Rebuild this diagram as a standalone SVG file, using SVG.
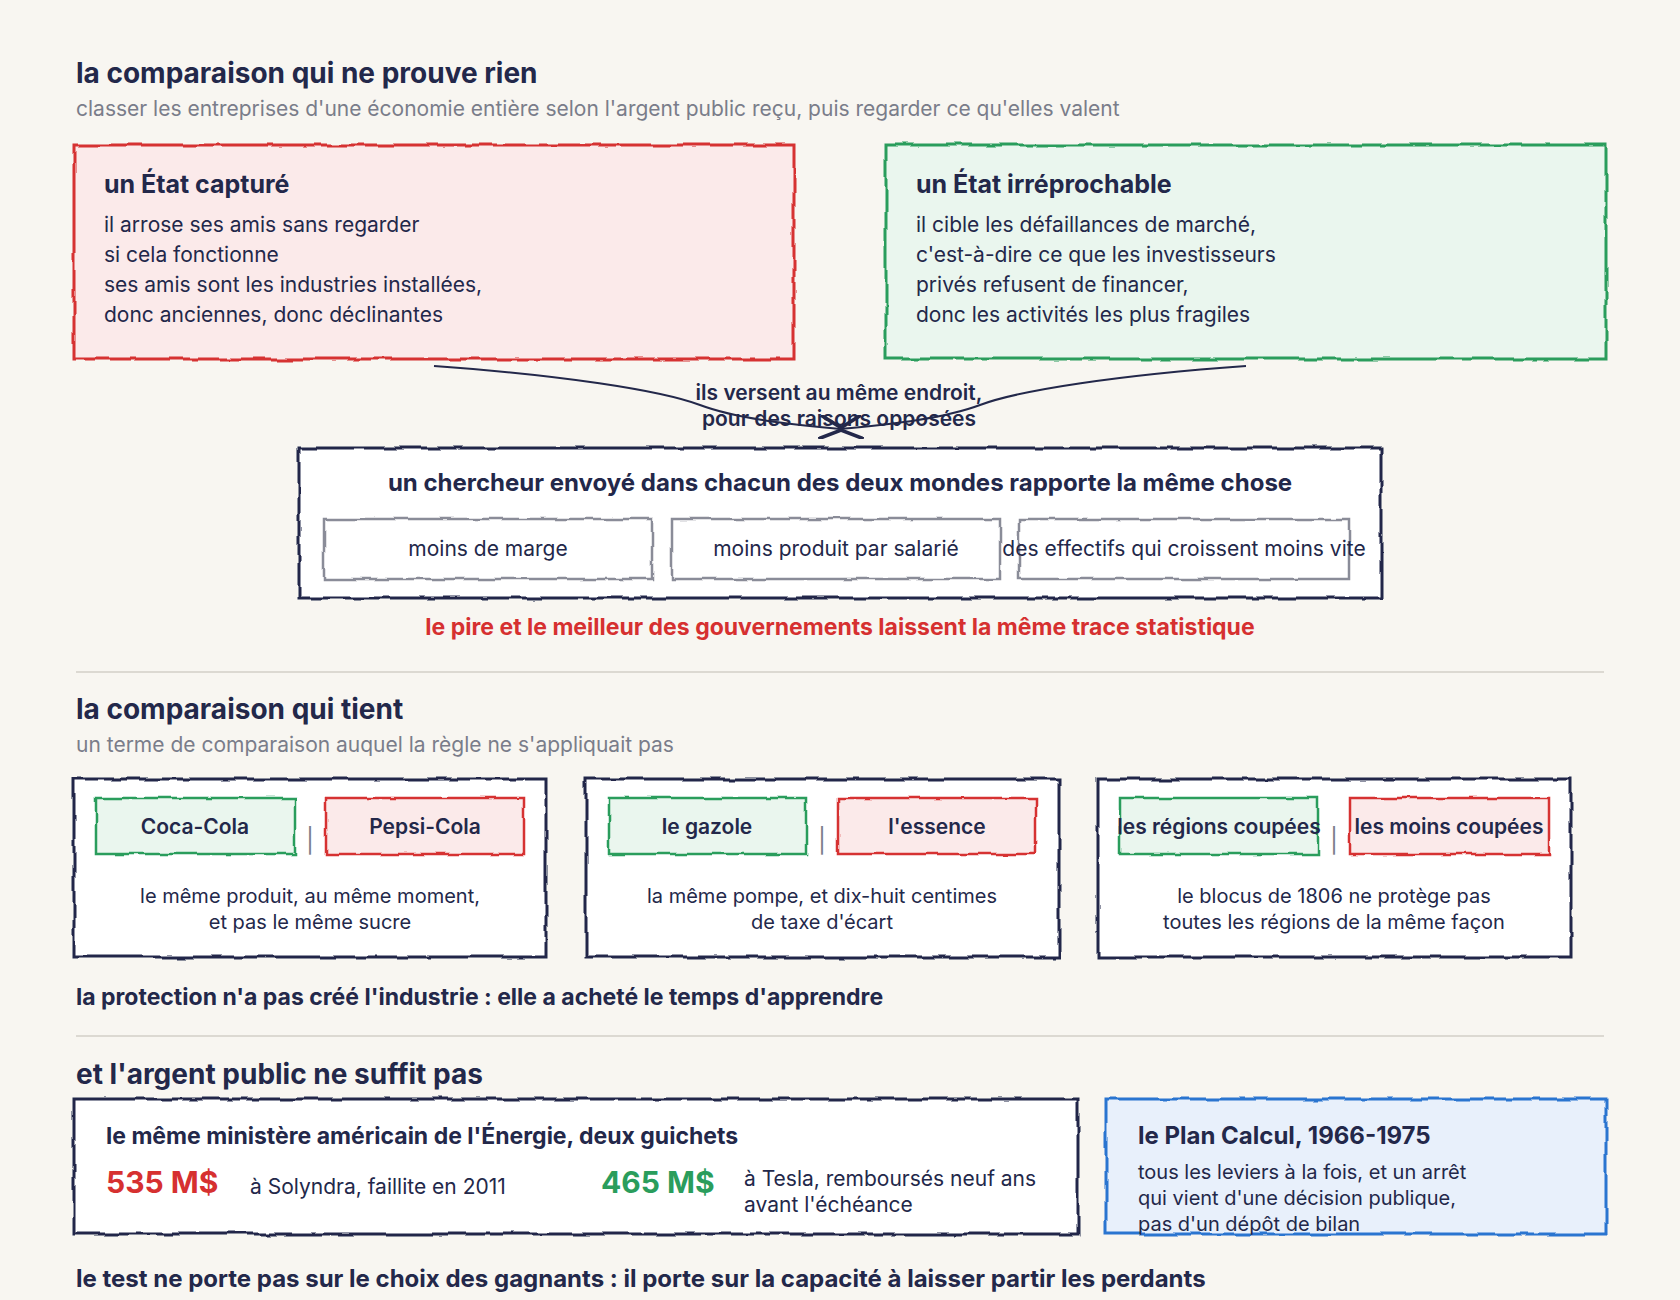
<svg xmlns="http://www.w3.org/2000/svg" width="1680" height="1300" viewBox="0 0 1680 1300">
<defs>
<filter id="rough" x="-5%" y="-5%" width="110%" height="110%"><feTurbulence type="fractalNoise" baseFrequency="0.04" numOctaves="2" seed="3"/><feDisplacementMap in="SourceGraphic" scale="5"/></filter>
<marker id="arr" viewBox="0 0 10 10" refX="9" refY="5" markerWidth="12" markerHeight="12" orient="auto-start-reverse"><path d="M0,0 L10,5 L0,10" fill="none" stroke="#23284a" stroke-width="1.5"/></marker>
</defs>
<style>
text{font-family:Inter,"Noto Sans","Liberation Sans",sans-serif;fill:#23284a}
.h1{font-size:28px;font-weight:700}
.sub{font-size:21px;fill:#7a7d8a}
.h2{font-size:25px;font-weight:700}
.body{font-size:21px}
.bold{font-size:23px;font-weight:700}
.c{text-anchor:middle}
.box{stroke-width:3;filter:url(#rough)}
.chip{stroke-width:2.5;filter:url(#rough)}
.sep{stroke:#dcd9d2;stroke-width:2}
</style>
<rect width="1680" height="1300" fill="#f8f6f1"/>

<text class="h1" x="76" y="83">la comparaison qui ne prouve rien</text>
<text class="sub" x="76" y="116">classer les entreprises d'une économie entière selon l'argent public reçu, puis regarder ce qu'elles valent</text>

<g id="etat-capture">
<rect class="box" x="74" y="145" width="720" height="214" fill="#fbeaea" stroke="#d63030"/>
<text class="h2" x="104" y="193">un État capturé</text>
<text class="body" x="104" y="232">il arrose ses amis sans regarder</text>
<text class="body" x="104" y="262">si cela fonctionne</text>
<text class="body" x="104" y="292">ses amis sont les industries installées,</text>
<text class="body" x="104" y="322">donc anciennes, donc déclinantes</text>
</g>
<g id="etat-irreprochable">
<rect class="box" x="886" y="145" width="720" height="214" fill="#eaf6ee" stroke="#2a9d5c"/>
<text class="h2" x="916" y="193">un État irréprochable</text>
<text class="body" x="916" y="232">il cible les défaillances de marché,</text>
<text class="body" x="916" y="262">c'est-à-dire ce que les investisseurs</text>
<text class="body" x="916" y="292">privés refusent de financer,</text>
<text class="body" x="916" y="322">donc les activités les plus fragiles</text>
</g>

<g id="connectors" fill="none" stroke="#23284a" stroke-width="2">
<path d="M434,366 C560,375 660,390 700,405 C740,420 800,425 841,429" marker-end="url(#arr)"/>
<path d="M1246,366 C1120,375 1020,390 980,405 C940,420 880,425 841,429" marker-end="url(#arr)"/>
</g>
<text class="c" x="839" y="400" style="font-size:21px;font-weight:600">ils versent au même endroit,</text>
<text class="c" x="839" y="426" style="font-size:21px;font-weight:600">pour des raisons opposées</text>

<g id="chercheur">
<rect class="box" x="299" y="448" width="1082" height="150" fill="#ffffff" stroke="#23284a"/>
<text class="c bold" x="840" y="491" style="font-size:24px">un chercheur envoyé dans chacun des deux mondes rapporte la même chose</text>
<rect class="chip" x="324" y="519" width="328" height="60" fill="none" stroke="#8a8c98" stroke-width="1.5"/>
<rect class="chip" x="672" y="519" width="328" height="60" fill="none" stroke="#8a8c98" stroke-width="1.5"/>
<rect class="chip" x="1019" y="519" width="330" height="60" fill="none" stroke="#8a8c98" stroke-width="1.5"/>
<text class="c body" x="488" y="556">moins de marge</text>
<text class="c body" x="836" y="556">moins produit par salarié</text>
<text class="c body" x="1184" y="556">des effectifs qui croissent moins vite</text>
</g>
<text class="c bold" x="840" y="635" style="fill:#d63030">le pire et le meilleur des gouvernements laissent la même trace statistique</text>

<line class="sep" x1="76" y1="672" x2="1604" y2="672"/>
<text class="h1" x="76" y="719">la comparaison qui tient</text>
<text class="sub" x="76" y="752">un terme de comparaison auquel la règle ne s'appliquait pas</text>

<g id="cola">
<rect class="box" x="74" y="779" width="472" height="178" fill="#fff" stroke="#23284a"/>
<rect class="chip" x="96" y="798" width="199" height="56" fill="#eaf6ee" stroke="#2a9d5c"/>
<rect class="chip" x="326" y="798" width="198" height="56" fill="#fbeaea" stroke="#d63030"/>
<text class="c" x="195" y="834" style="font-size:21px;font-weight:600">Coca-Cola</text>
<text class="c" x="425" y="834" style="font-size:21px;font-weight:600">Pepsi-Cola</text>
<text class="c sub" x="310" y="849" style="font-size:24px">|</text>
<text class="c" x="310" y="903" style="font-size:20px">le même produit, au même moment,</text>
<text class="c" x="310" y="929" style="font-size:20px">et pas le même sucre</text>
</g>
<g id="carburant">
<rect class="box" x="586" y="779" width="473" height="178" fill="#fff" stroke="#23284a"/>
<rect class="chip" x="609" y="798" width="197" height="56" fill="#eaf6ee" stroke="#2a9d5c"/>
<rect class="chip" x="838" y="798" width="198" height="56" fill="#fbeaea" stroke="#d63030"/>
<text class="c" x="707" y="834" style="font-size:21px;font-weight:600">le gazole</text>
<text class="c" x="937" y="834" style="font-size:21px;font-weight:600">l'essence</text>
<text class="c sub" x="822" y="849" style="font-size:24px">|</text>
<text class="c" x="822" y="903" style="font-size:20px">la même pompe, et dix-huit centimes</text>
<text class="c" x="822" y="929" style="font-size:20px">de taxe d'écart</text>
</g>
<g id="blocus">
<rect class="box" x="1098" y="779" width="473" height="178" fill="#fff" stroke="#23284a"/>
<rect class="chip" x="1120" y="798" width="198" height="56" fill="#eaf6ee" stroke="#2a9d5c"/>
<rect class="chip" x="1350" y="798" width="199" height="56" fill="#fbeaea" stroke="#d63030"/>
<text class="c" x="1219" y="834" style="font-size:21px;font-weight:600">les régions coupées</text>
<text class="c" x="1449" y="834" style="font-size:21px;font-weight:600">les moins coupées</text>
<text class="c sub" x="1334" y="849" style="font-size:24px">|</text>
<text class="c" x="1334" y="903" style="font-size:20px">le blocus de 1806 ne protège pas</text>
<text class="c" x="1334" y="929" style="font-size:20px">toutes les régions de la même façon</text>
</g>
<text class="bold" x="76" y="1005">la protection n'a pas créé l'industrie : elle a acheté le temps d'apprendre</text>

<line class="sep" x1="76" y1="1036" x2="1604" y2="1036"/>
<text class="h1" x="76" y="1084">et l'argent public ne suffit pas</text>

<g id="energie">
<rect class="box" x="74" y="1099" width="1004" height="135" fill="#fff" stroke="#23284a"/>
<text class="bold" x="106" y="1144">le même ministère américain de l'Énergie, deux guichets</text>
<text x="106" y="1193" style="font-size:30px;font-weight:700;fill:#d63030">535 M$</text>
<text class="body" x="250" y="1194">à Solyndra, faillite en 2011</text>
<text x="601" y="1193" style="font-size:30px;font-weight:700;fill:#2a9d5c">465 M$</text>
<text class="body" x="744" y="1186">à Tesla, remboursés neuf ans</text>
<text class="body" x="744" y="1212">avant l'échéance</text>
</g>
<g id="plan-calcul">
<rect class="box" x="1106" y="1099" width="500" height="135" fill="#e8f0fb" stroke="#2b74d0"/>
<text class="h2" x="1138" y="1144" style="font-size:24px">le Plan Calcul, 1966-1975</text>
<text x="1138" y="1179" style="font-size:20px">tous les leviers à la fois, et un arrêt</text>
<text x="1138" y="1205" style="font-size:20px">qui vient d'une décision publique,</text>
<text x="1138" y="1231" style="font-size:20px">pas d'un dépôt de bilan</text>
</g>
<text class="bold" x="76" y="1287" style="font-size:24px">le test ne porte pas sur le choix des gagnants : il porte sur la capacité à laisser partir les perdants</text>
</svg>
